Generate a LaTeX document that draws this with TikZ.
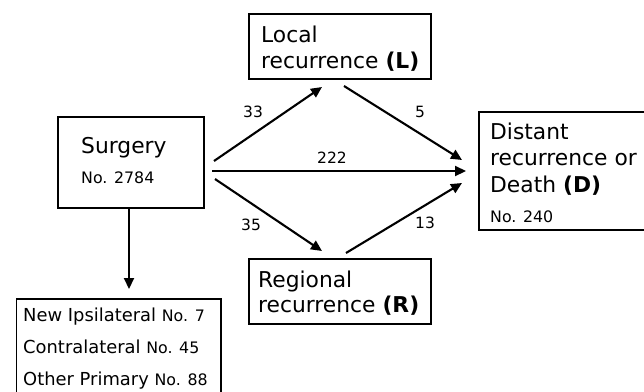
\documentclass[tikz,border=0pt]{standalone}
\usepackage{fontspec}
\setmainfont{DejaVu Sans}
\usetikzlibrary{arrows.meta}
\begin{document}
\begin{tikzpicture}[x=1pt,y=-1pt,
  box/.style={draw, line width=1.6pt, inner sep=0pt},
  arr/.style={line width=2.1pt, -{Triangle[length=11pt,width=10pt]}},
  big/.style={font=\fontsize{21.8}{26}\selectfont, inner sep=0pt, anchor=base west},
  mid/.style={font=\fontsize{17.9}{21}\selectfont, inner sep=0pt, anchor=base west},
  small/.style={font=\fontsize{15.8}{18}\selectfont, inner sep=0pt, anchor=base west},
  lab/.style={font=\fontsize{15.5}{18}\selectfont, inner sep=0pt, anchor=center}]
\useasboundingbox (0,0) rectangle (644,391);
\clip (0,0) rectangle (644,391);
% boxes
\node[box, minimum width=182pt, minimum height=65pt] (L) at (340,46.5) {};
\node[box, minimum width=146pt, minimum height=91pt] (S) at (131,162.5) {};
\node[box, minimum width=180pt, minimum height=118pt] (D) at (569,171) {};
\node[box, minimum width=182pt, minimum height=65pt] (R) at (340,291.5) {};
\node[box, minimum width=204.5pt, minimum height=101pt] (O) at (118.75,349.5) {};
% texts
\node[big] (Lt1) at (261,42) {Local};
\node[big] (Lt2) at (261,68) {recurrence \textbf{(L)}};
\node[big] (St1) at (81,153) {Surgery};
\node[small] (St2) at (81,183) {No. 2784};
\node[big] (Dt1) at (490,139) {Distant};
\node[big] (Dt2) at (490,165) {recurrence or};
\node[big] (Dt3) at (490,192) {Death \textbf{(D)}};
\node[small] (Dt4) at (490,222) {No. 240};
\node[big] (Rt1) at (258,287) {Regional};
\node[big] (Rt2) at (258,312) {recurrence \textbf{(R)}};
\node[mid] (Ot1) at (23,321) {New Ipsilateral {\fontsize{15.8}{18}\selectfont No. 7}};
\node[mid] (Ot2) at (23,353) {Contralateral {\fontsize{15.8}{18}\selectfont No. 45}};
\node[mid] (Ot3) at (23,385) {Other Primary {\fontsize{15.8}{18}\selectfont No. 88}};
% connector ends
\coordinate (sL) at (214,161);
\coordinate (sD) at (212,171);
\coordinate (sR) at (215,179);
\coordinate (sO) at (129,208);
\coordinate (Lin) at (322,87);
\coordinate (Lout) at (344,86);
\coordinate (Rin) at (322,251);
\coordinate (Rout) at (346,253);
\coordinate (DinL) at (462,160);
\coordinate (DinS) at (466,171);
\coordinate (DinR) at (462,183);
\coordinate (Oin) at (129,289);
% connectors
\draw[arr] (sL) -- (Lin);
\draw[arr] (sD) -- (DinS);
\draw[arr] (sR) -- (Rin);
\draw[arr] (Lout) -- (DinL);
\draw[arr] (Rout) -- (DinR);
\draw[arr] (sO) -- (Oin);
% labels
\node[lab] (n33) at (253,112) {33};
\node[lab] (n5) at (420,112) {5};
\node[lab] (n222) at (332,158) {222};
\node[lab] (n35) at (251,225) {35};
\node[lab] (n13) at (425,223) {13};
\end{tikzpicture}
\end{document}
